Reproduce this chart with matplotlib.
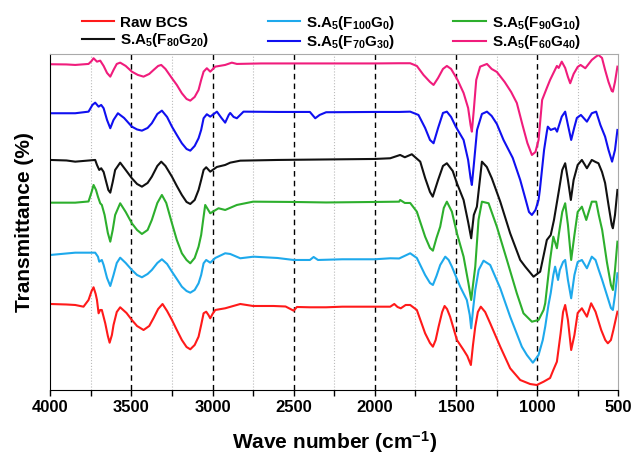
import numpy as np
import matplotlib
matplotlib.use("Agg")
import matplotlib.pyplot as plt
from matplotlib.ticker import MultipleLocator

plt.rcParams['font.family'] = ['Liberation Sans', 'DejaVu Sans']
plt.rcParams['font.weight'] = 'bold'
plt.rcParams['mathtext.fontset'] = 'custom'
plt.rcParams['mathtext.rm'] = 'Liberation Sans:bold'
plt.rcParams['mathtext.bf'] = 'Liberation Sans:bold'
plt.rcParams['mathtext.it'] = 'Liberation Sans:bold'

# spectra: wave number (cm-1) and depth from the top of the frame
# (the y axis is drawn inverted, so larger value = lower transmittance)
wn_raw = [4000, 3900, 3846, 3795, 3764, 3745, 3733, 3720, 3712, 3702, 3692, 3682, 3661, 3645, 3634,
          3620, 3610, 3590, 3569, 3530, 3497, 3465, 3425, 3390, 3363, 3335, 3308, 3280, 3250, 3220,
          3189, 3160, 3137, 3110, 3086, 3070, 3055, 3039, 3025, 3014, 3000, 2983, 2922, 2829, 2750,
          2624, 2550, 2520, 2500, 2480, 2400, 2300, 2200, 2000, 1905, 1880, 1860, 1840, 1810, 1782,
          1741, 1690, 1660, 1642, 1625, 1607, 1585, 1570, 1555, 1536, 1494, 1453, 1430, 1408, 1395,
          1381, 1365, 1347, 1320, 1289, 1227, 1166, 1104, 1043, 1002, 960, 920, 900, 878, 855,
          840, 827, 810, 790, 770, 750, 724, 693, 667, 640, 605, 580, 564, 545, 530, 505]
t_raw = [304, 304.5, 305, 306.7, 300, 291, 287.3, 294, 300, 313.3, 310, 310, 323.3, 336, 342.7,
         335, 325, 312, 307.3, 313, 320, 326, 330, 326, 318, 309, 304, 311, 320, 330,
         340, 347, 349.3, 345, 336.7, 325, 313.3, 311.7, 315, 318.3, 314, 310, 308.3, 304, 306,
         306, 306.5, 309, 310.7, 307, 307.3, 307.3, 306.7, 306.7, 306.7, 304, 307, 308.3, 305, 305,
         310, 333.3, 343, 346.7, 340, 326.7, 312, 306, 309, 316.7, 340, 350, 356, 365, 345,
         326.7, 312, 306.7, 312, 323.3, 346.7, 368.3, 380, 384, 385, 381.7, 378, 370, 361.7, 333.3,
         312, 305, 320, 350, 335, 313, 308.3, 316.7, 303.3, 311.7, 330, 340, 343.3, 340, 330, 311.7]

wn_f100 = [4000, 3900, 3846, 3723, 3706, 3698, 3682, 3671, 3650, 3630, 3610, 3590, 3569, 3535, 3497,
           3465, 3435, 3400, 3374, 3340, 3312, 3280, 3250, 3220, 3189, 3160, 3137, 3110, 3086, 3070,
           3055, 3039, 3014, 2983, 2922, 2891, 2829, 2747, 2600, 2500, 2400, 2377, 2350, 2200, 2000,
           1905, 1850, 1782, 1741, 1690, 1660, 1642, 1620, 1597, 1566, 1545, 1525, 1474, 1433, 1415,
           1406, 1395, 1381, 1360, 1330, 1289, 1227, 1166, 1094, 1063, 1026, 991, 965, 950, 930,
           916, 900, 889, 871, 860, 840, 827, 810, 790, 770, 750, 724, 693, 663, 640,
           620, 599, 570, 545, 533, 520, 505]
t_f100 = [255, 253.5, 252.7, 252.7, 256.7, 261.7, 260, 265, 278, 286, 275, 263, 257.7, 263, 270,
          275, 277.3, 274, 270, 263, 259.3, 264, 271.7, 279, 286.7, 291, 292.7, 290, 283.3, 275,
          263.3, 260, 262.7, 258, 253.3, 254, 258.3, 256.7, 258, 260, 260, 257, 260, 259.3, 259.3,
          258.3, 258.5, 253.3, 258, 275, 283, 285, 276, 265, 256.7, 260, 266.7, 286.7, 300, 315,
          328.3, 310, 290, 270, 260.7, 265, 288.3, 316.7, 346.7, 355, 362.7, 355, 340, 326.7, 305,
          293, 275, 266.7, 280, 270, 262, 260, 280, 298.3, 275, 262, 260, 268.3, 256.7, 260,
          270, 280, 295, 308, 310, 295, 273.3]

wn_f90 = [4000, 3846, 3764, 3745, 3733, 3718, 3706, 3692, 3682, 3665, 3645, 3630, 3615, 3600, 3569,
          3535, 3497, 3465, 3435, 3400, 3374, 3340, 3312, 3285, 3250, 3220, 3189, 3160, 3137, 3110,
          3086, 3070, 3055, 3045, 3014, 2963, 2922, 2850, 2750, 2500, 2300, 2000, 1850, 1844, 1815,
          1782, 1741, 1690, 1660, 1642, 1620, 1597, 1575, 1556, 1525, 1494, 1453, 1423, 1406, 1395,
          1381, 1361, 1340, 1299, 1248, 1186, 1125, 1084, 1032, 991, 960, 950, 920, 900, 878,
          865, 845, 827, 810, 790, 770, 750, 724, 697, 663, 636, 620, 599, 570, 545,
          533, 520, 505]
t_f90 = [202.7, 202.7, 201.5, 192, 185, 190, 196.7, 203.3, 205, 215, 233, 241.7, 230, 215, 203.3,
         212, 223.3, 230, 234, 230, 220, 203, 195, 203, 223.3, 240, 253.3, 260, 263.3, 258,
         246.7, 235, 216.7, 205, 213.3, 208.3, 210, 205, 201.7, 202, 202.5, 202, 201.7, 200, 203,
         203, 211.7, 236.7, 248, 250.7, 238, 226.7, 208, 201.7, 211.7, 233.3, 256.7, 283.3, 300, 285,
         266.7, 220, 201.7, 203.3, 226.7, 260, 293.3, 313.3, 321.7, 320, 310, 303.3, 260, 236.7, 248.3,
         233, 212, 203.3, 225, 260, 235, 212, 206.7, 220, 201.7, 201.7, 215, 230, 262, 285,
         290, 270, 241.7]

wn_f80 = [4000, 3900, 3846, 3760, 3723, 3712, 3698, 3686, 3671, 3655, 3642, 3630, 3615, 3600, 3569,
          3535, 3497, 3465, 3435, 3400, 3374, 3340, 3316, 3290, 3250, 3220, 3189, 3160, 3137, 3110,
          3086, 3070, 3055, 3039, 3014, 2973, 2922, 2891, 2829, 2600, 2300, 2000, 1905, 1844, 1815,
          1772, 1720, 1690, 1660, 1643, 1610, 1580, 1556, 1520, 1494, 1453, 1425, 1406, 1390, 1371,
          1340, 1310, 1279, 1227, 1166, 1104, 1073, 1022, 981, 957, 940, 916, 896, 865, 845,
          827, 810, 792, 775, 750, 724, 693, 663, 640, 622, 600, 581, 560, 540, 533,
          520, 505]
t_f80 = [160, 160.5, 161.7, 160.5, 160, 165, 170, 168.3, 172, 182, 190, 192.7, 182, 170, 162.7,
         170, 178.3, 184, 186.7, 183, 176.7, 166, 161.7, 166, 176.7, 186, 195, 202, 204, 200,
         190, 180, 170, 167.3, 171.7, 167, 165, 162.7, 160.7, 160, 159.5, 159, 158.3, 155, 157.3,
         154.3, 161.7, 178, 192, 196.7, 180, 166, 163.3, 171, 183.3, 200, 222, 238.3, 215, 206.7,
         161.7, 167, 178.3, 201.7, 233.3, 260, 266.7, 276.7, 271.7, 253.3, 240, 235, 220, 190, 170,
         163.3, 180, 200, 180, 165, 160, 168.3, 160, 162, 163.3, 172, 183, 205, 225, 228.3,
         215, 190]

wn_f70 = [4000, 3846, 3764, 3740, 3723, 3702, 3686, 3671, 3650, 3630, 3610, 3583, 3545, 3497, 3465,
          3435, 3400, 3374, 3340, 3312, 3280, 3250, 3220, 3189, 3160, 3137, 3110, 3086, 3070, 3055,
          3035, 3014, 2973, 2945, 2922, 2900, 2891, 2870, 2850, 2809, 2600, 2400, 2367, 2340, 2300,
          2000, 1850, 1782, 1731, 1690, 1660, 1638, 1610, 1580, 1556, 1530, 1500, 1453, 1425, 1410,
          1402, 1390, 1370, 1340, 1309, 1280, 1248, 1207, 1150, 1104, 1070, 1050, 1032, 1010, 991,
          983, 957, 940, 934, 916, 889, 877, 848, 827, 810, 790, 770, 755, 730, 693,
          663, 636, 610, 581, 560, 538, 520, 505]
t_f70 = [113.3, 113.3, 111.7, 105, 102.7, 106.7, 105, 108.3, 120, 128.3, 120, 113.3, 118, 126.7, 129.5,
         130.7, 128, 123.3, 114, 110.7, 117, 126.7, 135, 143.3, 149, 150.7, 146, 138.3, 130, 118.3,
         114.3, 116.7, 111.7, 118, 122.7, 115, 113, 117, 118.3, 111.7, 112, 112, 118.3, 115, 112.3,
         112, 112, 111.7, 115, 128, 140, 143.3, 128, 113, 111.7, 117, 127, 140, 160, 178,
         185, 165, 130, 114, 111.7, 116, 124, 140, 158, 180, 200, 212, 215, 210, 200,
         190, 150, 132, 126.7, 130, 128.3, 131.7, 116.7, 111.7, 125, 140, 127, 118, 115, 121.7,
         113.3, 111.7, 125, 136.7, 150, 161.7, 150, 130]

wn_f60 = [4000, 3900, 3846, 3764, 3745, 3733, 3712, 3692, 3671, 3650, 3630, 3610, 3590, 3569, 3535,
          3497, 3460, 3425, 3390, 3363, 3335, 3316, 3290, 3250, 3220, 3189, 3160, 3137, 3110, 3086,
          3070, 3055, 3035, 3014, 2983, 2922, 2881, 2850, 2700, 2500, 2300, 2000, 1850, 1782, 1741,
          1700, 1660, 1638, 1610, 1580, 1556, 1530, 1490, 1453, 1425, 1410, 1402, 1390, 1375, 1351,
          1309, 1280, 1248, 1200, 1160, 1125, 1090, 1060, 1032, 1010, 991, 969, 940, 920, 900,
          878, 867, 848, 827, 810, 796, 775, 750, 732, 703, 663, 640, 622, 600, 581,
          560, 540, 533, 520, 505]
t_f60 = [64.3, 64.5, 65, 64, 61, 58.3, 61.7, 60.7, 66, 73, 76.7, 70, 64, 62.7, 66,
         71.7, 75, 76.7, 74, 70, 66, 65, 69, 78.3, 85, 93.3, 99, 100.7, 97, 90,
         80, 71.7, 68.3, 71.7, 66.7, 65, 62.7, 64, 63.5, 63.5, 63.5, 63.5, 63.3, 63.3, 66,
         75, 82, 85, 78, 69, 66, 69, 80, 93, 108, 125, 131.7, 110, 80, 66.7,
         64, 69, 72, 82, 92, 103, 125, 143, 155, 152, 140, 100, 88, 80, 73.3,
         66, 68, 61.7, 68, 77, 83.3, 74, 67, 65, 68.3, 60, 57, 55, 58, 70,
         82, 91, 91.7, 82, 66.7]

labels = ['Raw BCS', r'S.A$_{5}$(F$_{100}$G$_{0}$)', r'S.A$_{5}$(F$_{90}$G$_{10}$)',
          r'S.A$_{5}$(F$_{80}$G$_{20}$)', r'S.A$_{5}$(F$_{70}$G$_{30}$)', r'S.A$_{5}$(F$_{60}$G$_{40}$)']
colors = ['#FF1A1A', '#1EA9EC', '#2DAF2D', '#111111', '#1010F0', '#F01C7C']
series = [(wn_raw, t_raw), (wn_f100, t_f100), (wn_f90, t_f90),
          (wn_f80, t_f80), (wn_f70, t_f70), (wn_f60, t_f60)]

fig = plt.figure(figsize=(6.44, 4.61), dpi=100)
ax = fig.add_axes([0.078, 0.154, 0.882, 0.729])

lines = []
for (wn, t), lab, c in zip(series, labels, colors):
    ln, = ax.plot(wn, t, color=c, lw=1.5, label=lab, solid_joinstyle='round')
    lines.append(ln)

ax.set_xlim(4000, 500)
ax.set_ylim(390, 54)

for x in [3500, 3000, 2500, 2000, 1500, 1000]:
    ax.axvline(x, color='black', ls=(0, (4, 3)), lw=1.0, zorder=0)
for x in [3750, 3250, 2750, 2250, 1750, 1250, 750]:
    ax.axvline(x, color='#BBBBBB', ls=':', lw=0.8, zorder=0)

ax.xaxis.set_major_locator(MultipleLocator(500))
ax.xaxis.set_minor_locator(MultipleLocator(250))
ax.tick_params(axis='x', which='both', direction='out', length=4, width=1, labelsize=12)
ax.set_yticks([])
for s in ['top', 'right']:
    ax.spines[s].set_color('#AAAAAA')
for lab in ax.get_xticklabels():
    lab.set_fontweight('bold')

ax.set_xlabel('Wave number (cm$^{-1}$)', fontsize=15, fontweight='bold', labelpad=10)
ax.set_ylabel('Transmittance (%)', fontsize=15, fontweight='bold', labelpad=12)

# legend laid out row by row (matplotlib fills columns first)
order = [0, 3, 1, 4, 2, 5]
leg = fig.legend([lines[i] for i in order], [labels[i] for i in order], ncol=3,
                 loc='upper center', bbox_to_anchor=(0.515, 1.0), frameon=False,
                 prop={'size': 11, 'weight': 'bold'}, handlelength=2.1,
                 columnspacing=3.8, labelspacing=0.1, handletextpad=0.4)

fig.savefig('out.png', dpi=100)
